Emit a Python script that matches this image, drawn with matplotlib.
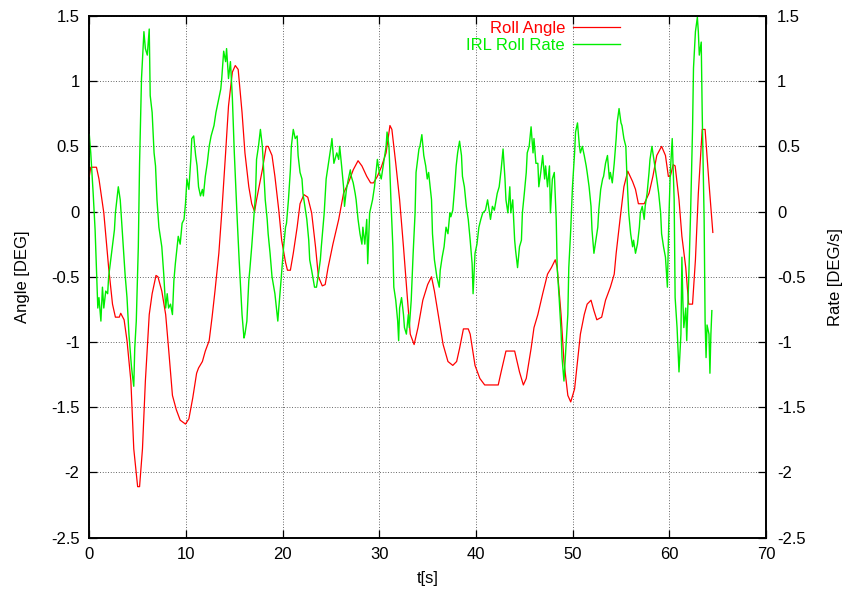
import matplotlib
matplotlib.use("Agg")
import matplotlib.pyplot as plt
from matplotlib.ticker import MultipleLocator, FormatStrFormatter

plt.rcParams['font.family'] = ['Liberation Sans', 'DejaVu Sans']
plt.rcParams['axes.unicode_minus'] = False

# ---- data ----
t_angle = [0, 0.15, 0.74, 1.0, 1.5, 2.0, 2.4, 2.7, 3.1, 3.25, 3.6, 3.9, 4.3, 4.6, 5.0, 5.2,
           5.5, 5.8, 6.2, 6.5, 6.9, 7.1, 7.5, 7.9, 8.2, 8.6, 9.0, 9.4, 9.95, 10.3, 10.7,
           11.1, 11.3, 11.7, 12.0, 12.4, 12.7, 13.0, 13.4, 13.7, 14.1, 14.4, 14.8, 15.1,
           15.4, 15.8, 16.1, 16.5, 16.8, 17.1, 17.3, 17.9, 18.3, 18.5, 18.9, 19.2, 19.6,
           19.9, 20.3, 20.5, 20.8, 21.1, 21.5, 21.8, 22.2, 22.6, 23.0, 23.4, 23.7, 24.1,
           24.4, 24.7, 25.2, 25.8, 26.3, 26.8, 27.3, 27.8, 28.2, 28.7, 29.1, 29.4, 29.8,
           30.2, 30.7, 31.1, 31.3, 31.7, 32.1, 32.5, 32.9, 33.2, 33.6, 34.0, 34.5, 35.0,
           35.4, 35.7, 36.2, 36.6, 37.1, 37.6, 38.0, 38.3, 38.7, 39.2, 39.4, 39.9, 40.4,
           40.9, 42.3, 42.6, 43.1, 44.0, 44.5, 44.9, 45.2, 45.7, 46.0, 46.4, 46.9, 47.4,
           47.8, 48.2, 48.4, 48.8, 49.1, 49.5, 49.8, 50.2, 50.5, 50.8, 51.2, 51.5, 51.9,
           52.2, 52.5, 53.0, 53.4, 53.9, 54.3, 54.5, 54.9, 55.3, 55.7, 56.2, 56.5, 56.8,
           57.4, 57.9, 58.3, 58.7, 59.2, 59.6, 59.9, 60.1, 60.4, 60.6, 61.0, 61.3, 61.7,
           62.0, 62.4, 62.7, 63.0, 63.4, 63.7, 64.1, 64.5]
roll_angle = [0.27, 0.34, 0.34, 0.25, -0.01, -0.43, -0.71, -0.81, -0.81, -0.78, -0.83, -0.99,
              -1.30, -1.82, -2.11, -2.11, -1.82, -1.30, -0.79, -0.63, -0.49, -0.50, -0.61,
              -0.79, -1.05, -1.41, -1.52, -1.60, -1.63, -1.59, -1.43, -1.24, -1.20, -1.15,
              -1.07, -0.99, -0.81, -0.61, -0.32, -0.01, 0.45, 0.81, 1.07, 1.12, 1.09, 0.76,
              0.45, 0.19, 0.06, 0.0, 0.09, 0.32, 0.50, 0.50, 0.43, 0.27, 0.01, -0.22, -0.39,
              -0.45, -0.45, -0.32, -0.12, 0.06, 0.13, 0.11, -0.01, -0.27, -0.50, -0.57, -0.56,
              -0.43, -0.25, -0.06, 0.14, 0.22, 0.32, 0.39, 0.35, 0.27, 0.22, 0.22, 0.27, 0.34,
              0.45, 0.66, 0.63, 0.37, 0.09, -0.27, -0.66, -0.94, -1.02, -0.89, -0.68, -0.56,
              -0.50, -0.61, -0.84, -1.02, -1.15, -1.18, -1.15, -1.05, -0.90, -0.90, -0.94,
              -1.18, -1.28, -1.33, -1.33, -1.23, -1.07, -1.07, -1.23, -1.33, -1.28, -1.05,
              -0.89, -0.79, -0.63, -0.48, -0.43, -0.37, -0.43, -0.79, -1.15, -1.41, -1.46,
              -1.36, -1.15, -0.94, -0.79, -0.71, -0.68, -0.76, -0.83, -0.81, -0.68, -0.58,
              -0.48, -0.32, -0.06, 0.19, 0.31, 0.23, 0.17, 0.06, 0.06, 0.14, 0.27, 0.43, 0.50,
              0.43, 0.27, 0.27, 0.36, 0.35, 0.09, -0.19, -0.43, -0.71, -0.71, -0.37, 0.14,
              0.63, 0.63, 0.22, -0.16]

t_rate = [0, 0.15, 0.4, 0.6, 0.74, 0.88, 1.0, 1.2, 1.36, 1.5, 1.7, 1.9, 2.0, 2.3, 2.6, 2.7,
          3.0, 3.2, 3.4, 3.7, 3.9, 4.1, 4.35, 4.45, 4.6, 4.7, 4.86, 5.07, 5.2, 5.4, 5.65,
          5.8, 6.0, 6.2, 6.3, 6.5, 6.7, 6.85, 7.0, 7.2, 7.5, 7.7, 7.9, 8.06, 8.2, 8.4, 8.6,
          8.75, 8.9, 9.2, 9.4, 9.6, 9.8, 9.95, 10.1, 10.3, 10.5, 10.6, 10.8, 11.0, 11.15,
          11.3, 11.5, 11.7, 11.8, 12.0, 12.2, 12.4, 12.6, 12.9, 13.1, 13.4, 13.6, 13.7,
          13.9, 14.1, 14.2, 14.4, 14.6, 14.8, 15.0, 15.3, 15.5, 15.8, 16.0, 16.1, 16.3,
          16.5, 16.6, 16.8, 17.0, 17.2, 17.3, 17.5, 17.7, 17.9, 18.0, 18.2, 18.4, 18.5,
          18.7, 18.9, 19.2, 19.5, 19.6, 19.8, 20.1, 20.3, 20.4, 20.6, 20.8, 20.9, 21.1,
          21.3, 21.5, 21.6, 21.8, 22.0, 22.1, 22.3, 22.5, 22.7, 22.8, 23.0, 23.3, 23.5,
          23.7, 23.9, 24.0, 24.3, 24.5, 24.7, 25.0, 25.1, 25.3, 25.6, 25.8, 25.9, 26.1,
          26.3, 26.4, 26.6, 26.8, 27.0, 27.1, 27.3, 27.5, 27.6, 27.8, 28.0, 28.2, 28.3,
          28.5, 28.7, 28.8, 29.0, 29.3, 29.5, 29.8, 30.0, 30.2, 30.5, 30.7, 30.8, 31.0,
          31.2, 31.4, 31.5, 31.7, 31.9, 32.0, 32.1, 32.3, 32.5, 32.6, 32.8, 33.0, 33.1,
          33.3, 33.5, 33.7, 33.8, 34.1, 34.2, 34.4, 34.6, 34.8, 34.96, 35.1, 35.4, 35.5,
          35.7, 35.95, 36.2, 36.3, 36.5, 36.7, 36.9, 37.1, 37.3, 37.4, 37.6, 37.8, 37.95,
          38.1, 38.3, 38.5, 38.6, 38.8, 39.0, 39.2, 39.4, 39.6, 39.7, 39.9, 40.1, 40.3,
          40.5, 40.7, 40.98, 41.2, 41.5, 41.7, 41.9, 42.2, 42.4, 42.6, 42.8, 43.0, 43.1,
          43.3, 43.5, 43.6, 43.8, 44.0, 44.1, 44.3, 44.5, 44.7, 44.8, 45.0, 45.2, 45.3,
          45.5, 45.7, 45.9, 46.0, 46.2, 46.4, 46.5, 46.7, 46.9, 47.1, 47.2, 47.4, 47.6,
          47.7, 47.9, 48.1, 48.3, 48.4, 48.6, 48.8, 48.9, 49.1, 49.3, 49.5, 49.6, 49.8,
          49.98, 50.2, 50.3, 50.5, 50.7, 50.8, 51.0, 51.2, 51.4, 51.5, 51.7, 51.9, 52.0,
          52.2, 52.4, 52.6, 52.7, 52.9, 53.1, 53.2, 53.4, 53.6, 53.8, 53.9, 54.1, 54.3,
          54.5, 54.6, 54.8, 55.0, 55.1, 55.3, 55.5, 55.6, 55.8, 56.0, 56.2, 56.3, 56.5,
          56.7, 56.9, 57.0, 57.2, 57.4, 57.5, 57.7, 57.9, 58.0, 58.2, 58.4, 58.5, 58.7,
          58.9, 59.1, 59.2, 59.4, 59.6, 59.8, 59.95, 60.1, 60.3, 60.5, 60.6, 60.8, 61.0,
          61.2, 61.3, 61.4, 61.5, 61.7, 61.8, 62.0, 62.2, 62.4, 62.5, 62.7, 62.9, 63.0,
          63.1, 63.3, 63.4, 63.6, 63.7, 63.8, 63.9, 64.1, 64.2, 64.3, 64.4]
roll_rate = [0.59, 0.45, 0.14, -0.14, -0.43, -0.74, -0.66, -0.84, -0.58, -0.74, -0.61, -0.63,
             -0.50, -0.32, -0.14, -0.01, 0.19, 0.09, -0.14, -0.48, -0.66, -0.94, -1.18, -1.25,
             -1.34, -1.05, -0.84, -0.27, 0.37, 1.02, 1.38, 1.25, 1.20, 1.40, 0.89, 0.76, 0.45,
             0.35, 0.09, -0.12, -0.27, -0.48, -0.74, -0.63, -0.74, -0.71, -0.79, -0.53, -0.40,
             -0.19, -0.25, -0.09, -0.06, 0.06, 0.25, 0.17, 0.40, 0.56, 0.58, 0.43, 0.35, 0.19,
             0.12, 0.17, 0.12, 0.27, 0.37, 0.50, 0.58, 0.66, 0.76, 0.87, 0.94, 1.02, 1.23,
             1.15, 1.25, 1.02, 1.15, 0.87, 0.45, -0.06, -0.37, -0.79, -0.97, -0.94, -0.84,
             -0.53, -0.45, -0.27, -0.06, 0.14, 0.40, 0.50, 0.63, 0.50, 0.37, 0.09, -0.06,
             -0.17, -0.32, -0.50, -0.63, -0.84, -0.74, -0.56, -0.27, -0.12, -0.09, 0.09, 0.32,
             0.50, 0.63, 0.56, 0.58, 0.43, 0.30, 0.25, 0.14, 0.04, -0.06, -0.22, -0.37, -0.45,
             -0.58, -0.58, -0.48, -0.37, -0.27, -0.01, 0.25, 0.35, 0.50, 0.56, 0.37, 0.45,
             0.40, 0.50, 0.35, 0.19, 0.04, 0.17, 0.25, 0.32, 0.27, 0.22, 0.14, 0.09, -0.06,
             -0.17, -0.25, -0.12, -0.25, -0.06, -0.40, -0.01, 0.09, 0.19, 0.40, 0.30, 0.25,
             0.40, 0.50, 0.61, 0.50, 0.09, -0.27, -0.58, -0.68, -0.84, -0.99, -0.74, -0.66,
             -0.79, -0.89, -0.94, -0.79, -0.89, -0.68, -0.32, -0.01, 0.30, 0.48, 0.50, 0.59,
             0.43, 0.35, 0.25, 0.30, 0.09, -0.17, -0.37, -0.50, -0.58, -0.45, -0.35, -0.27,
             -0.12, -0.17, -0.01, -0.04, 0.01, 0.19, 0.35, 0.45, 0.54, 0.43, 0.27, 0.19, 0.04,
             -0.06, -0.22, -0.40, -0.63, -0.32, -0.25, -0.12, -0.06, -0.01, 0.01, 0.09, -0.06,
             0.04, 0.01, 0.14, 0.19, 0.32, 0.48, 0.25, 0.09, -0.01, 0.19, -0.01, 0.09, -0.22,
             -0.30, -0.43, -0.27, -0.22, -0.01, 0.14, 0.30, 0.45, 0.50, 0.65, 0.45, 0.56,
             0.37, 0.37, 0.19, 0.30, 0.43, 0.25, 0.35, 0.19, 0.35, -0.01, 0.25, 0.30, -0.06,
             -0.43, -0.66, -0.92, -1.12, -1.30, -1.05, -0.79, -0.43, -0.14, 0.19, 0.45, 0.61,
             0.68, 0.50, 0.45, 0.50, 0.43, 0.35, 0.30, 0.19, 0.04, -0.14, -0.32, -0.22, -0.12,
             0.01, 0.17, 0.25, 0.27, 0.37, 0.43, 0.25, 0.30, 0.22, 0.37, 0.56, 0.68, 0.79,
             0.68, 0.66, 0.56, 0.50, 0.30, -0.01, -0.17, -0.27, -0.22, -0.32, -0.25, -0.12,
             -0.01, 0.04, -0.06, 0.04, 0.14, 0.30, 0.40, 0.50, 0.40, 0.35, 0.25, 0.14, -0.01,
             -0.17, -0.27, -0.35, -0.58, -0.06, 0.30, 0.56, 0.09, -0.66, -0.89, -1.23, -0.94,
             -0.35, -0.69, -0.89, -0.74, -0.99, -0.53, -0.01, 0.63, 1.10, 1.38, 1.49, 1.38,
             1.20, 1.30, 0.76, -0.06, -0.84, -1.12, -0.87, -0.94, -1.24, -0.94, -0.76]

x_ticks = [0, 10, 20, 30, 40, 50, 60, 70]
y_limits = (-2.5, 1.5)
label_angle = "Roll Angle"
label_rate = "IRL Roll Rate"

# ---- figure ----
W, H = 845, 592
L, R, T, B = 89.3, 766.0, 16.0, 537.5
fig = plt.figure(figsize=(W / 100, H / 100), dpi=100)
ax = fig.add_axes([L / W, 1 - B / H, (R - L) / W, (B - T) / H])
ax2 = ax.twinx()

red = '#ff0000'
green = '#00ee00'

l1, = ax.plot(t_angle, roll_angle, color=red, lw=0.9, label=label_angle, zorder=3)
l2, = ax2.plot(t_rate, roll_rate, color=green, lw=1.0, label=label_rate, zorder=2)

for a in (ax, ax2):
    a.set_ylim(*y_limits)
    a.yaxis.set_major_locator(MultipleLocator(0.5))
    a.yaxis.set_major_formatter(FormatStrFormatter('%g'))
ax.set_xlim(0, 70)
ax.set_xticks(x_ticks)

ax.grid(True, color='#333333', linestyle=(0, (1, 2.2)), linewidth=0.6)
ax.set_axisbelow(True)

fs = 12
ax.tick_params(axis='both', direction='in', length=6, width=0.9, labelsize=fs,
               top=True, right=False)
ax.tick_params(axis='y', pad=7)
ax.tick_params(axis='x', pad=7)
ax2.tick_params(axis='y', direction='in', length=6, width=0.9, labelsize=fs, pad=8)

for a in (ax, ax2):
    for s in a.spines.values():
        s.set_linewidth(1.2)

ax.set_xlabel("t[s]", fontsize=fs, va='center')
ax.xaxis.set_label_coords(0.5, -(579 - B) / (B - T))
ax.set_ylabel("Angle [DEG]", fontsize=fs, va='center')
ax.yaxis.set_label_coords((23 - L) / (R - L), 0.5)
ax2.set_ylabel("Rate [DEG/s]", fontsize=fs, rotation=90, va='center')
ax2.yaxis.set_label_coords((835 - L) / (R - L), 0.5)

leg = ax2.legend(handles=[l1, l2], loc='upper right',
                 bbox_to_anchor=((620 - L) / (R - L), (B - 21) / (B - T)),
                 frameon=False, markerfirst=False, fontsize=fs, handlelength=2.8,
                 handletextpad=0.5, labelspacing=0.12, borderpad=0, borderaxespad=0,
                 labelcolor='linecolor')

fig.savefig("out.png", dpi=100)
